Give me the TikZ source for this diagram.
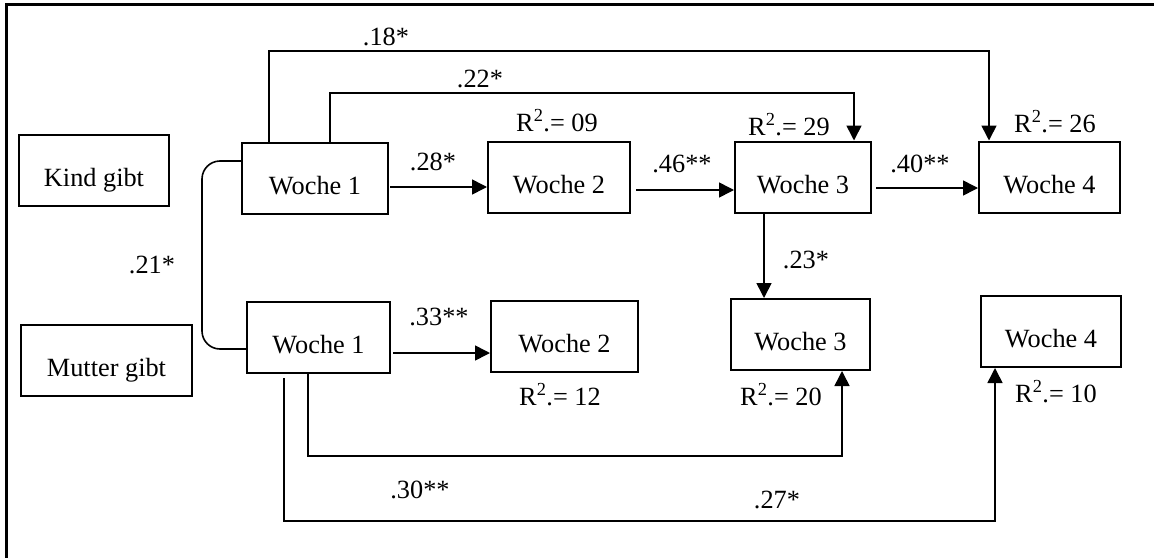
\documentclass[tikz,border=0pt]{standalone}
\usepackage{fontspec}
\setmainfont{Liberation Serif}
\usetikzlibrary{arrows.meta}
\begin{document}
\begin{tikzpicture}[x=1pt,y=-1pt,
  font=\fontsize{26.3}{31}\selectfont,
  box/.style={draw, line width=2pt, inner sep=0pt, text height=51.5pt, text depth=19.5pt},
  lbl/.style={inner sep=0pt, anchor=base},
  link/.style={line width=1.6pt},
  arr/.style={link, -{Triangle[length=15pt,width=15pt]}}]
\useasboundingbox (0,0) rectangle (1154,557);
\fill[white] (0,0) rectangle (1154,557);
% open frame: left and top edges only
\draw[line width=2.4pt] (6.5,560) -- (6.5,4.5) -- (1160,4.5);

% row labels
\node[box, minimum width=150pt] (kind)   at (94,170.5)  {Kind gibt};
\node[box, minimum width=171pt] (mutter) at (106.5,360.5) {Mutter gibt};

% child gives: weeks 1-4
\node[box, minimum width=146pt] (m1) at (315,178.5) {Woche 1};
\node[box, minimum width=142pt] (m2) at (559,177)   {Woche 2};
\node[box, minimum width=136pt] (m3) at (803,177)   {Woche 3};
\node[box, minimum width=141pt] (m4) at (1049.5,177) {Woche 4};

% mother gives: weeks 1-4
\node[box, minimum width=143pt] (k1) at (318.5,337.5) {Woche 1};
\node[box, minimum width=147pt] (k2) at (564.5,336)   {Woche 2};
\node[box, minimum width=139pt] (k3) at (800.5,334.5) {Woche 3};
\node[box, minimum width=140pt] (k4) at (1051,331.5)  {Woche 4};

% explained variance
\node[lbl] (r09) at (557,131)  {R\textsuperscript{2}.= 09};
\node[lbl] (r29) at (789,135)  {R\textsuperscript{2}.= 29};
\node[lbl] (r26) at (1055,132) {R\textsuperscript{2}.= 26};
\node[lbl] (r12) at (560,405)  {R\textsuperscript{2}.= 12};
\node[lbl] (r20) at (781,405)  {R\textsuperscript{2}.= 20};
\node[lbl] (r10) at (1056,402) {R\textsuperscript{2}.= 10};

% path coefficients
\node[lbl] (p18) at (386,45)  {.18*};
\node[lbl] (p22) at (480,87)  {.22*};
\node[lbl] (p28) at (433,170) {.28*};
\node[lbl] (p21) at (152,273) {.21*};
\node[lbl] (p46) at (682,172) {.46**};
\node[lbl] (p40) at (920,172) {.40**};
\node[lbl] (p23) at (806,268) {.23*};
\node[lbl] (p33) at (439,325) {.33**};
\node[lbl] (p30) at (420,498) {.30**};
\node[lbl] (p27) at (777,508) {.27*};

% routing points
\coordinate (c18) at (269,51);  \coordinate (d18) at (989,51);
\coordinate (c22) at (330,93);  \coordinate (d22) at (854,93);
\coordinate (h1) at (0,187);    \coordinate (h2) at (0,190);
\coordinate (h3) at (0,188);    \coordinate (h4) at (0,353);
\coordinate (v23) at (764,0);
\coordinate (c33) at (308,456); \coordinate (d33) at (842,456);
\coordinate (c30) at (284,521); \coordinate (d30) at (995,521);
\coordinate (a21) at (202,161); \coordinate (b21) at (202,349);

% child row paths
\draw[arr] (m1.north -| c18) -- (c18) -- (d18) -- (m4.north -| d18);
\draw[arr] (m1.north -| c22) -- (c22) -- (d22) -- (m3.north -| d22);
\draw[arr, shorten <=1pt] (m1.east |- h1) -- (m2.west |- h1);
\draw[arr, shorten <=5pt] (m2.east |- h2) -- (m3.west |- h2);
\draw[arr, shorten <=4pt] (m3.east |- h3) -- (m4.west |- h3);
\draw[arr] (m3.south -| v23) -- (k3.north -| v23);

% mother row paths
\draw[arr, shorten <=2pt] (k1.east |- h4) -- (k2.west |- h4);
\draw[arr] (k1.south -| c33) -- (c33) -- (d33) -- (k3.south -| d33);
\draw[arr, shorten <=4pt] (k1.south -| c30) -- (c30) -- (d30) -- (k4.south -| d30);

% correlation between the two week-1 measures
\draw[link, rounded corners=18pt] (m1.west |- a21) -- (a21) -- (b21) -- (k1.west |- b21);
\end{tikzpicture}
\end{document}
